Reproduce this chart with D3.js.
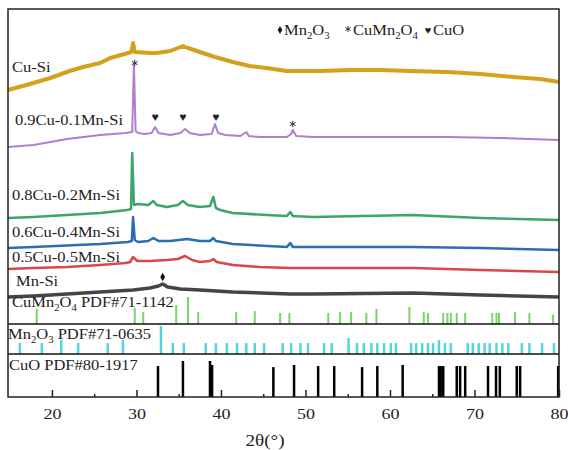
<!DOCTYPE html>
<html>
<head>
<meta charset="utf-8">
<script src="https://cdn.jsdelivr.net/npm/d3@7"></script>
<style>
  body { margin: 0; background: #fff; }
  text { font-family: "Liberation Serif", "Times New Roman", serif; fill: #222; }
</style>
</head>
<body>
<div id="chart"></div>
<script>
// ---- measured traces: 2theta (deg) / intensity (a.u., already stacked) ----
var cuSiX = [14.8, 17.4, 19.8, 22.1, 23.7, 25.7, 26.9, 28.6, 29.4, 29.6, 29.8, 31.6, 32.4, 34.0, 34.9, 35.5, 36.1, 37.5, 39.3, 41.4, 43.4, 45.4, 47.8, 51.7, 55.3, 58.8, 62.4, 66.8, 70.7, 74.6, 77.8, 80.0];
var cuSiY = [307, 313, 319, 326, 330, 334, 339, 343, 345, 354, 345, 344, 344, 346, 349, 351, 349, 345, 340, 335, 331, 329, 326, 326, 327, 327, 326, 325, 323, 320, 318, 315];

var cu9X = [14.8, 17.8, 21.8, 25.7, 28.7, 29.5, 29.7, 29.9, 30.2, 31.0, 31.8, 32.2, 32.6, 34.0, 35.2, 35.75, 36.3, 37.5, 38.9, 39.3, 39.65, 40.5, 42.3, 43.0, 43.3, 44.6, 47.8, 48.3, 48.5, 48.9, 50.9, 58.8, 66.8, 73.0, 80.0];
var cu9Y = [250, 252, 258, 262, 264, 265, 332, 266, 264, 263, 264, 270, 264, 262, 264, 268, 264, 262, 263, 273, 264, 262, 261, 265, 261, 260, 260, 263, 267, 261, 260, 260, 260, 259, 257];

var cu8X = [14.8, 17.8, 21.8, 25.7, 28.9, 29.35, 29.5, 29.7, 30.1, 31.4, 32.0, 32.4, 33.6, 34.9, 35.5, 36.1, 37.5, 38.7, 39.1, 39.4, 39.9, 41.4, 45.4, 47.8, 48.2, 48.5, 50.9, 62.7, 70.7, 80.0];
var cu8Y = [179, 180, 182, 184, 187, 188, 244, 192, 193, 192, 196, 192, 190, 192, 196, 192, 190, 191, 200, 189, 187, 184, 182, 181, 185, 181, 180, 182, 179, 177];

var cu6X = [14.8, 17.8, 25.7, 29.0, 29.45, 29.6, 29.8, 30.2, 31.4, 32.0, 32.6, 34.0, 36.0, 37.5, 38.7, 39.1, 39.4, 41.4, 47.8, 48.2, 48.5, 50.9, 62.7, 70.7, 80.0];
var cu6Y = [149, 150, 153, 155, 156, 180, 157, 155, 156, 159, 156, 156, 158, 156, 156, 159, 156, 153, 150, 154, 150, 150, 150, 149, 147];

var cu5X = [14.8, 17.8, 21.8, 25.7, 28.7, 29.25, 29.6, 30.1, 31.6, 33.6, 34.9, 35.75, 36.6, 37.5, 38.7, 39.1, 39.5, 41.4, 44.6, 48.2, 50.9, 62.7, 70.7, 80.0];
var cu5Y = [128, 129, 130, 132, 134, 135, 140, 136, 136, 137, 138, 141, 137, 135, 136, 138, 135, 132, 130, 129, 129, 129, 127, 125];

var mnSiX = [14.8, 17.8, 21.8, 25.7, 29.6, 31.6, 32.6, 33.1, 33.7, 35.2, 37.5, 41.4, 48.2, 50.9, 62.7, 70.7, 80.0];
var mnSiY = [100, 101, 103, 105, 107, 109, 111, 113, 110, 108, 107, 105, 103, 103, 104, 102, 100];

// ---- reference patterns: position (deg) / relative intensity ----
var cuMn2O4Pos = [18.2, 29.8, 30.8, 34.7, 36.1, 37.3, 41.8, 44.0, 47.0, 48.1, 52.7, 54.1, 55.4, 57.2, 58.4, 62.3, 64.0, 64.5, 66.3, 66.8, 67.2, 67.9, 68.9, 72.1, 72.6, 72.9, 74.8, 76.5, 79.3];
var cuMn2O4Int = [56, 59, 44, 70, 100, 44, 44, 48, 41, 41, 41, 44, 44, 41, 56, 63, 44, 41, 41, 41, 41, 41, 41, 41, 41, 41, 44, 41, 35];

var mn2O3Pos = [16.2, 18.8, 21.1, 23.1, 26.6, 28.4, 32.9, 34.3, 35.6, 38.2, 39.4, 40.7, 41.9, 43.0, 44.0, 45.1, 47.3, 48.3, 49.4, 50.3, 52.2, 53.1, 55.1, 56.1, 56.9, 57.8, 58.5, 59.3, 60.1, 60.7, 62.5, 63.1, 63.8, 64.5, 65.1, 65.8, 66.5, 67.2, 69.2, 69.8, 70.5, 71.2, 71.8, 72.6, 73.3, 74.0, 75.6, 76.5, 78.0, 79.4];
var mn2O3Int = [39, 39, 50, 39, 39, 50, 100, 39, 39, 39, 39, 39, 39, 39, 39, 39, 39, 39, 39, 39, 39, 39, 57, 39, 39, 39, 39, 39, 39, 39, 39, 39, 39, 39, 39, 50, 39, 39, 39, 39, 39, 39, 39, 39, 39, 39, 39, 39, 39, 39];

var cuOPos = [32.55, 35.5, 38.7, 38.95, 46.2, 48.65, 51.5, 53.4, 56.7, 58.5, 61.5, 65.8, 66.0, 66.3, 67.9, 68.3, 68.9, 71.6, 72.55, 73.0, 75.0, 75.4, 79.9];
var cuOInt = [86, 100, 100, 89, 83, 89, 86, 86, 83, 86, 89, 86, 86, 86, 86, 86, 86, 86, 86, 86, 86, 86, 86];

// ---- peak markers ----
var heartX = [32.2, 35.5, 39.4];
var heartY = [280, 280, 280];
var starX = [29.8, 48.5];
var starY = [334, 273];
var diamondX = [33.1];
var diamondY = [120];

var xTicks = [20, 30, 40, 50, 60, 70, 80];
var xMinorTicks = [25, 35, 45, 55, 65, 75];

var svgWidth = 568;
var svgHeight = 450;
var plotLeft = 8, plotRight = 559, plotTop = 9, plotBottom = 397;
var stretch = 1.1;

var svg = d3.select("#chart")
  .append("svg")
  .attr("width", svgWidth)
  .attr("height", svgHeight);

var xScale = d3.scaleLinear().domain([14.8, 80]).range([plotLeft, plotRight]);
var yScale = d3.scaleLinear().domain([0, 388]).range([plotBottom, plotTop]);

// text with optional subscripts; the source text is a bit wider than Times
function addFormula(g, parts, tx, ty, size) {
  var t = g.append("text")
    .attr("transform", `translate(${tx},${ty}) scale(${stretch},1)`)
    .attr("font-size", size);
  var lowered = false;
  parts.forEach(function(p) {
    if (p.sub) {
      t.append("tspan").attr("font-size", size * 0.65).attr("dy", lowered ? 0 : 4).text(p.sub);
      lowered = true;
    } else {
      t.append("tspan").attr("dy", lowered ? -4 : 0).text(p.t);
      lowered = false;
    }
  });
  return t;
}

// traces
var series = [
  { xs: cuSiX, ys: cuSiY, color: "#d2a21c", width: 4 },
  { xs: cu9X, ys: cu9Y, color: "#b07fcb", width: 2 },
  { xs: cu8X, ys: cu8Y, color: "#3ca46c", width: 2.5 },
  { xs: cu6X, ys: cu6Y, color: "#2a6db3", width: 2.5 },
  { xs: cu5X, ys: cu5Y, color: "#d8474a", width: 2.5 },
  { xs: mnSiX, ys: mnSiY, color: "#454545", width: 3.5 }
];

var line = d3.line()
  .x(d => xScale(d[0]))
  .y(d => yScale(d[1]));

var traceGroup = svg.append("g");
series.forEach(function(s) {
  traceGroup.append("path")
    .datum(d3.zip(s.xs, s.ys))
    .attr("d", line)
    .attr("fill", "none")
    .attr("stroke", s.color)
    .attr("stroke-width", s.width)
    .attr("stroke-linejoin", "round");
});

// reference stick panels
var panels = [
  { pos: cuMn2O4Pos, val: cuMn2O4Int, bottom: 324, maxH: 27, color: "#79d46a", width: 2 },
  { pos: mn2O3Pos, val: mn2O3Int, bottom: 354, maxH: 28, color: "#52d6dd", width: 2.5 },
  { pos: cuOPos, val: cuOInt, bottom: 397, maxH: 36, color: "#000", width: 2.5 }
];

panels.forEach(function(p) {
  var py = d3.scaleLinear().domain([0, 100]).range([p.bottom, p.bottom - p.maxH]);
  svg.append("g").selectAll("line")
    .data(d3.zip(p.pos, p.val))
    .enter()
    .append("line")
    .attr("x1", d => xScale(d[0]))
    .attr("x2", d => xScale(d[0]))
    .attr("y1", py(0))
    .attr("y2", d => py(d[1]))
    .attr("stroke", p.color)
    .attr("stroke-width", p.width);
});

// panel separators
[324, 354].forEach(function(yy) {
  svg.append("line")
    .attr("x1", plotLeft).attr("x2", plotRight)
    .attr("y1", yy).attr("y2", yy)
    .attr("stroke", "#111").attr("stroke-width", 1.5);
});

// frame
svg.append("rect")
  .attr("x", plotLeft).attr("y", plotTop)
  .attr("width", plotRight - plotLeft).attr("height", plotBottom - plotTop)
  .attr("fill", "none").attr("stroke", "#222").attr("stroke-width", 1.5);

// x axis
var xAxis = svg.append("g")
  .attr("transform", `translate(0, ${plotBottom})`)
  .call(d3.axisBottom(xScale).tickValues(xTicks).tickSize(-7).tickPadding(11));
xAxis.select(".domain").remove();
xAxis.selectAll(".tick line").attr("stroke", "#222").attr("stroke-width", 1.5);
xAxis.selectAll(".tick text")
  .attr("font-size", 15)
  .attr("font-family", "Liberation Serif")
  .attr("fill", "#333")
  .attr("transform", `scale(${stretch + 0.1},1)`);

var xMinor = svg.append("g")
  .attr("transform", `translate(0, ${plotBottom})`)
  .call(d3.axisBottom(xScale).tickValues(xMinorTicks).tickSize(-3).tickFormat(""));
xMinor.select(".domain").remove();
xMinor.selectAll(".tick line").attr("stroke", "#222").attr("stroke-width", 1.5);

svg.append("text")
  .attr("transform", `translate(265,446) scale(${stretch + 0.1},1)`)
  .attr("text-anchor", "middle")
  .attr("font-size", 16)
  .attr("fill", "#333")
  .text("2θ(°)");

// peak markers
var markerGroup = svg.append("g");
markerGroup.selectAll(".heart")
  .data(d3.zip(heartX, heartY))
  .enter()
  .append("text")
  .attr("x", d => xScale(d[0]))
  .attr("y", d => yScale(d[1]))
  .attr("text-anchor", "middle")
  .attr("dominant-baseline", "central")
  .attr("font-family", "DejaVu Sans")
  .attr("font-size", 12)
  .attr("fill", "#111")
  .text("♥");

markerGroup.selectAll(".star")
  .data(d3.zip(starX, starY))
  .enter()
  .append("path")
  .attr("transform", d => `translate(${xScale(d[0])},${yScale(d[1])})`)
  .attr("d", d3.symbol(d3.symbolAsterisk, 30))
  .attr("fill", "none")
  .attr("stroke", "#333")
  .attr("stroke-width", 1);

markerGroup.selectAll(".diamond")
  .data(d3.zip(diamondX, diamondY))
  .enter()
  .append("path")
  .attr("transform", d => `translate(${xScale(d[0])},${yScale(d[1])})`)
  .attr("d", d3.symbol(d3.symbolDiamond, 20))
  .attr("fill", "#111");

// sample labels
var labelGroup = svg.append("g");
addFormula(labelGroup, [{t: "Cu-Si"}], 12, 72, 15);
addFormula(labelGroup, [{t: "0.9Cu-0.1Mn-Si"}], 15, 125, 15);
addFormula(labelGroup, [{t: "0.8Cu-0.2Mn-Si"}], 12, 200, 15);
addFormula(labelGroup, [{t: "0.6Cu-0.4Mn-Si"}], 12, 237, 15);
addFormula(labelGroup, [{t: "0.5Cu-0.5Mn-Si"}], 12, 262, 15);
addFormula(labelGroup, [{t: "Mn-Si"}], 16, 286, 15);

addFormula(labelGroup, [{t: "CuMn"}, {sub: "2"}, {t: "O"}, {sub: "4"}, {t: " PDF#71-1142"}], 12, 307, 15);
addFormula(labelGroup, [{t: "Mn"}, {sub: "2"}, {t: "O"}, {sub: "3"}, {t: " PDF#71-0635"}], 8, 339, 15);
addFormula(labelGroup, [{t: "CuO PDF#80-1917"}], 9, 370, 15);

// legend
var legend = svg.append("g");
legend.append("path")
  .attr("transform", "translate(280,30)")
  .attr("d", d3.symbol(d3.symbolDiamond, 18))
  .attr("fill", "#111");
addFormula(legend, [{t: "Mn"}, {sub: "2"}, {t: "O"}, {sub: "3"}], 284, 35, 15);
legend.append("path")
  .attr("transform", "translate(348,29)")
  .attr("d", d3.symbol(d3.symbolAsterisk, 25))
  .attr("fill", "none")
  .attr("stroke", "#333");
addFormula(legend, [{t: "CuMn"}, {sub: "2"}, {t: "O"}, {sub: "4"}], 353, 35, 15);
legend.append("text")
  .attr("x", 428).attr("y", 30)
  .attr("text-anchor", "middle")
  .attr("dominant-baseline", "central")
  .attr("font-family", "DejaVu Sans")
  .attr("font-size", 11)
  .attr("fill", "#111")
  .text("♥");
addFormula(legend, [{t: "CuO"}], 433, 35, 15);
</script>
</body>
</html>
